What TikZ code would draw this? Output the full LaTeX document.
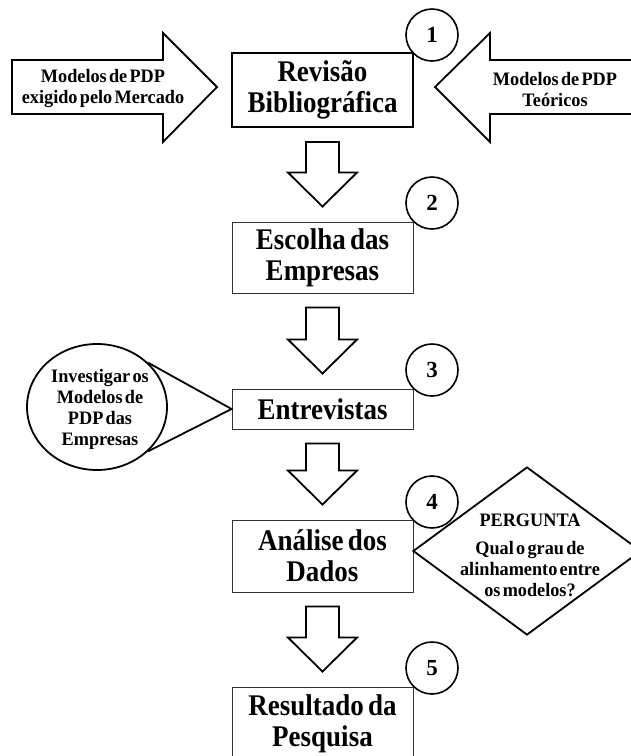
\documentclass[tikz,border=0pt]{standalone}
\usepackage{fontspec}
\setmainfont{Liberation Serif}
\newfontfamily\bigfont{Liberation Serif}[FakeStretch=0.9,WordSpace=0.6]
\newfontfamily\smallfont{Liberation Serif}[FakeStretch=0.96,WordSpace=0.5]
\usetikzlibrary{shapes.geometric,calc}

\tikzset{
  stepbox/.style={draw=black!80, line width=0.9pt, fill=white, minimum width=181pt,
    inner sep=0pt, align=center, font=\bigfont\bfseries\fontsize{30}{31}\selectfont},
  mainbox/.style={stepbox, draw=black, line width=1.8pt},
  numcircle/.style={circle, draw, line width=1.6pt, minimum size=52pt, inner sep=0pt,
    font=\bfseries\fontsize{23}{23}\selectfont},
  blockarrow/.style={draw, line width=1.8pt, fill=white, line join=miter},
  smalltext/.style={align=center, inner sep=0pt,
    font=\smallfont\bfseries\fontsize{19}{21}\selectfont},
  outline/.style={draw, line width=1.8pt}
}

% block arrow pointing down from the bottom of one step to the top of the next
\newcommand{\steparrow}[2]{%
  \draw[blockarrow] let \p1=(#1.south), \p2=(#2.north) in
    (\x1-16.5pt,\y1-14pt) -- (\x1+16.5pt,\y1-14pt) -- (\x1+16.5pt,\y2+49pt)
    -- (\x1+34.5pt,\y2+49pt) -- (\x1,\y2+15pt) -- (\x1-34.5pt,\y2+49pt)
    -- (\x1-16.5pt,\y2+49pt) -- cycle;}

\begin{document}
\begin{tikzpicture}[x=1pt,y=-1pt]
\useasboundingbox (0,0) rectangle (631,756);

% steps of the method
\node[mainbox, minimum height=74pt] (b1) at (322.5,90) {Revisão\\Bibliográfica};
\node[stepbox, minimum height=71pt] (b2) at (322.5,257.5) {Escolha das\\Empresas};
\node[stepbox, minimum height=40pt] (b3) at (322.5,409) {Entrevistas};
\node[stepbox, minimum height=72pt] (b4) at (322.5,556) {Análise dos\\Dados};
\node[stepbox, minimum height=73pt] (b5) at (322.5,723.5) {Resultado da\\Pesquisa};

\steparrow{b1}{b2}
\steparrow{b2}{b3}
\steparrow{b3}{b4}
\steparrow{b4}{b5}

% step numbers
\node[numcircle] (n1) at (432,35) {1};
\node[numcircle] (n2) at (432,203) {2};
\node[numcircle] (n3) at (432,370) {3};
\node[numcircle] (n4) at (432,502) {4};
\node[numcircle] (n5) at (432,668) {5};

% inputs to the literature review
\draw[blockarrow] (12,60) -- (163,60) -- (163,33) -- (217,87) -- (163,142)
  -- (163,114) -- (12,114) -- cycle;
\node[smalltext] (inleft) at (103,88.5) {Modelos de PDP\\exigido pelo Mercado};
\draw[blockarrow] (640,60) -- (490,60) -- (490,33) -- (435,87) -- (490,142)
  -- (490,114) -- (640,114) -- cycle;
\node[smalltext] (inright) at (555,89) {Modelos de PDP\\Teóricos};

% goal of the interviews
\node[ellipse, outline, minimum width=140pt, minimum height=126pt, inner sep=0pt]
  (goal) at (97,407) {};
\draw[outline, line join=miter] (goal.41) -- (b3.west) -- (goal.-41);
\node[smalltext] (goaltext) at (100,409)
  {Investigar os\\Modelos de\\PDP das\\Empresas};

% research question
\node[diamond, outline, minimum width=228pt, minimum height=168pt, inner sep=0pt]
  (q) at (527,551) {};
\node[smalltext] (qtitle) at (530,520) {PERGUNTA};
\node[smalltext] (qtext) at (530,569) {Qual o grau de\\alinhamento entre\\os modelos?};
\end{tikzpicture}
\end{document}
